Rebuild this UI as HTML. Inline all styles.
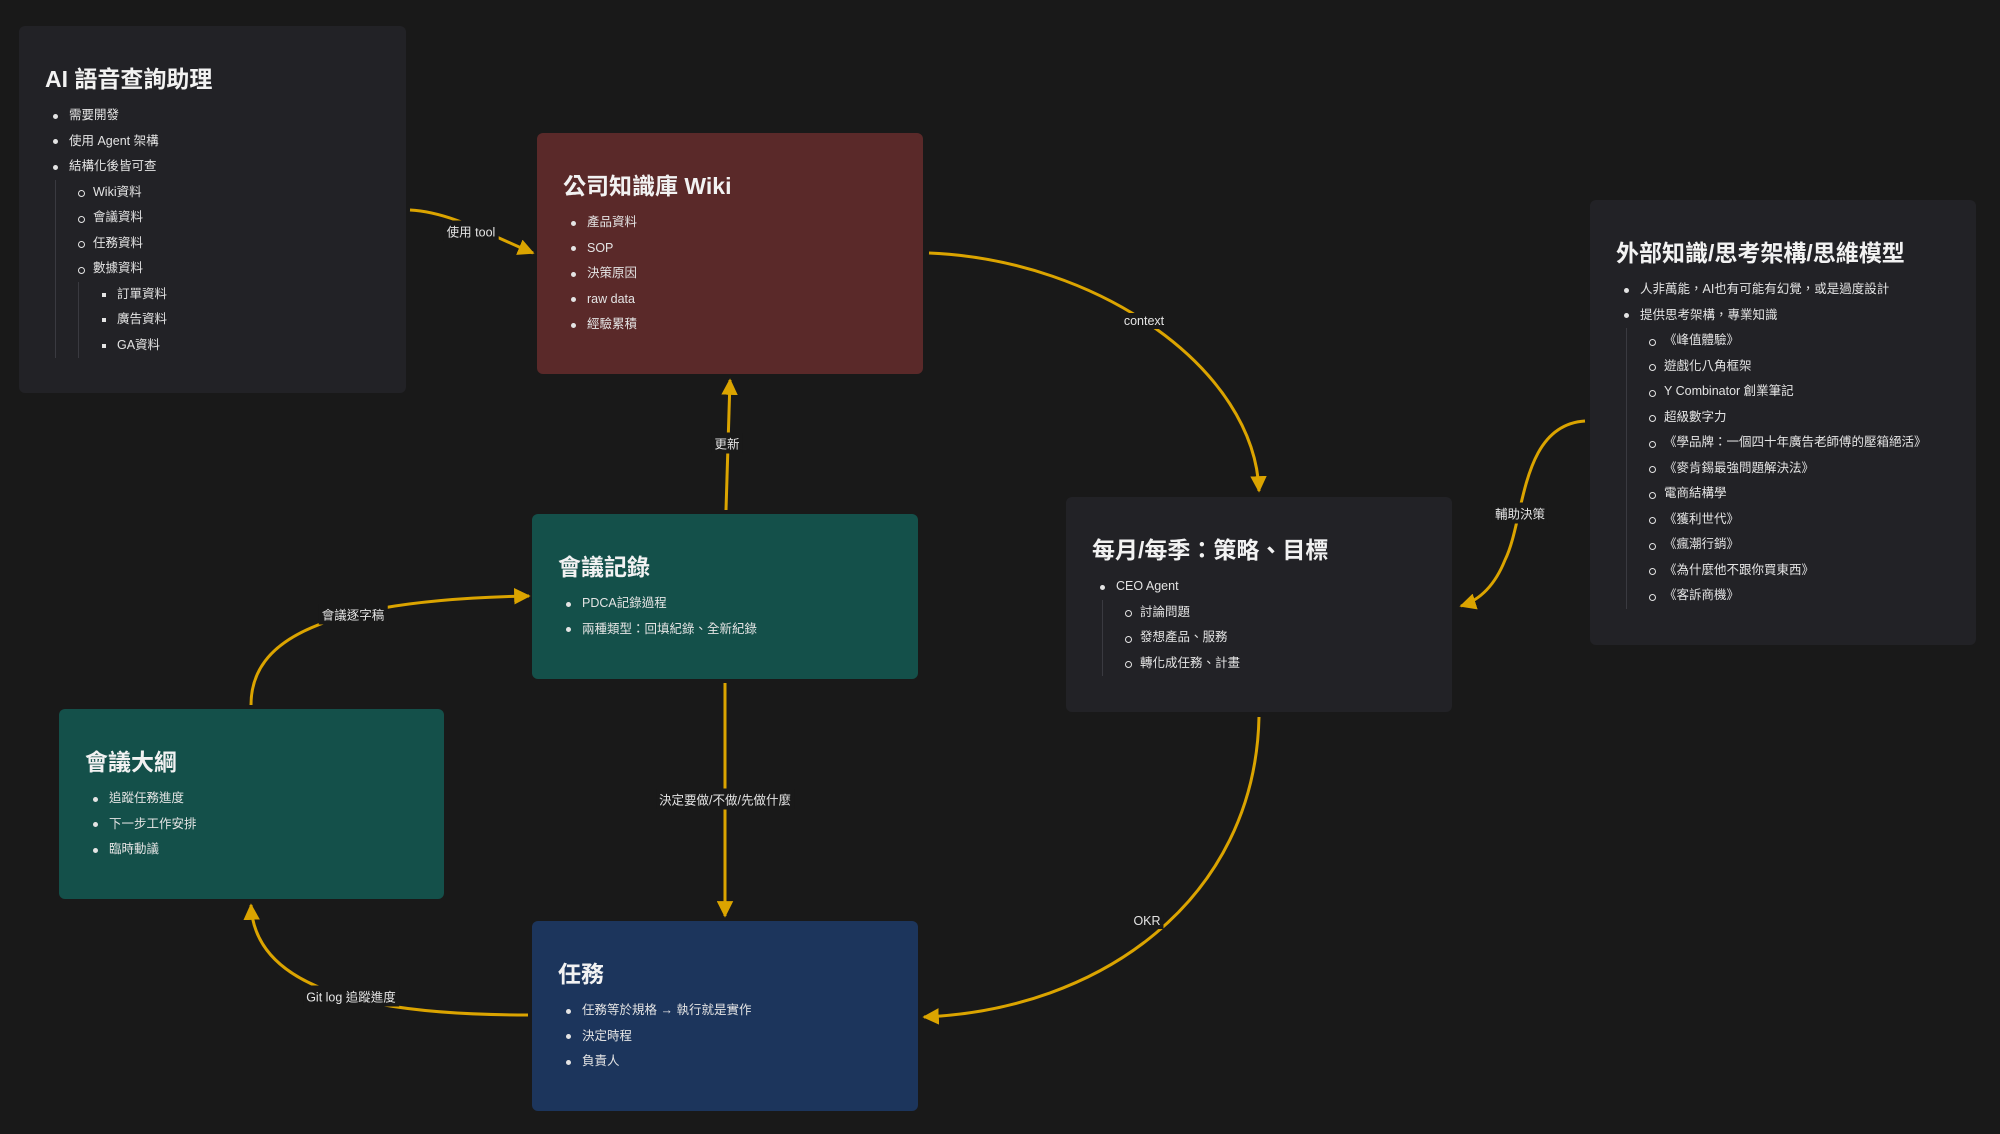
<!DOCTYPE html>
<html><head><meta charset="utf-8">
<style>
*{margin:0;padding:0;box-sizing:border-box}
body{width:2000px;height:1134px;background:#191919;position:relative;overflow:hidden;font-family:"Liberation Sans","Noto Sans CJK TC",sans-serif;color:#e4e4e4}
.box{position:absolute;border-radius:6px;padding-top:38px}
.box h1{font-size:23px;font-weight:bold;color:#f2f2f2;height:30px;line-height:30px;padding-left:26px;margin-bottom:9px;white-space:nowrap}
.r{height:25.5px;line-height:25.5px;font-size:12.5px;position:relative;padding-left:50px;white-space:nowrap}
.r::before{content:"";position:absolute;left:34px;top:10.5px;width:5px;height:5px;border-radius:50%;background:#e4e4e4}
.g{margin-left:36px;border-left:1px solid #3a3a40}
.g>.r{padding-left:37px}
.g>.r::before{left:22px;background:none;border:1px solid #e4e4e4;width:5px;height:5px;top:10.5px}
.g .g{margin-left:22px}
.g .g>.r{padding-left:38px}
.g .g>.r::before{left:23px;border:none;background:#e4e4e4;border-radius:0;width:4px;height:4px;top:11px}
.dark{background:#222226}
.red{background:#5a2929}
.green{background:#14504a}
.blue{background:#1c355c}
.lbl{position:absolute;font-size:12.5px;color:#e4e4e4;background:#191919;padding:1px 3px;transform:translate(-50%,-50%);white-space:nowrap}
svg{position:absolute;left:0;top:0}
</style></head><body>
<svg width="2000" height="1134">
<defs><marker id="a" viewBox="0 0 10 10" refX="9" refY="5" markerWidth="5.5" markerHeight="5.5" orient="auto"><path d="M0,0L10,5L0,10z" fill="#dba400"/></marker></defs>
<g fill="none" stroke="#dba400" stroke-width="3">
<path d="M410,210 C450,212 490,235 533,253" marker-end="url(#a)"/>
<path d="M929,253 C1100,260 1255,370 1259,491" marker-end="url(#a)"/>
<path d="M726,510 L730,380" marker-end="url(#a)"/>
<path d="M1585,421 C1520,425 1525,520 1505,560 C1495,585 1480,600 1461,606" marker-end="url(#a)"/>
<path d="M251,705 C251,640 320,600 529,596" marker-end="url(#a)"/>
<path d="M725,683 L725,916" marker-end="url(#a)"/>
<path d="M1259,717 C1255,900 1100,1010 924,1017" marker-end="url(#a)"/>
<path d="M528,1015 C400,1015 255,1000 251,905" marker-end="url(#a)"/>
</g></svg>
<div class="lbl" style="left:471px;top:231px">使用 tool</div>
<div class="lbl" style="left:1144px;top:321px">context</div>
<div class="lbl" style="left:727px;top:443px">更新</div>
<div class="lbl" style="left:1520px;top:513px">輔助決策</div>
<div class="lbl" style="left:353px;top:614px">會議逐字稿</div>
<div class="lbl" style="left:725px;top:799px">決定要做/不做/先做什麼</div>
<div class="lbl" style="left:1147px;top:921px">OKR</div>
<div class="lbl" style="left:351px;top:996px">Git log 追蹤進度</div>

<div class="box dark" style="left:19px;top:26px;width:387px;height:367px">
<h1>AI 語音查詢助理</h1>
<div class="r">需要開發</div><div class="r">使用 Agent 架構</div><div class="r">結構化後皆可查</div>
<div class="g"><div class="r">Wiki資料</div><div class="r">會議資料</div><div class="r">任務資料</div><div class="r">數據資料</div>
<div class="g"><div class="r">訂單資料</div><div class="r">廣告資料</div><div class="r">GA資料</div></div></div>
</div>
<div class="box red" style="left:537px;top:133px;width:386px;height:241px">
<h1>公司知識庫 Wiki</h1>
<div class="r">產品資料</div><div class="r">SOP</div><div class="r">決策原因</div><div class="r">raw data</div><div class="r">經驗累積</div>
</div>
<div class="box green" style="left:532px;top:514px;width:386px;height:165px">
<h1>會議記錄</h1>
<div class="r">PDCA記錄過程</div><div class="r">兩種類型：回填紀錄、全新紀錄</div>
</div>
<div class="box green" style="left:59px;top:709px;width:385px;height:190px">
<h1>會議大綱</h1>
<div class="r">追蹤任務進度</div><div class="r">下一步工作安排</div><div class="r">臨時動議</div>
</div>
<div class="box blue" style="left:532px;top:921px;width:386px;height:190px">
<h1>任務</h1>
<div class="r">任務等於規格 → 執行就是實作</div><div class="r">決定時程</div><div class="r">負責人</div>
</div>
<div class="box dark" style="left:1066px;top:497px;width:386px;height:215px">
<h1>每月/每季：策略、目標</h1>
<div class="r">CEO Agent</div>
<div class="g"><div class="r">討論問題</div><div class="r">發想產品、服務</div><div class="r">轉化成任務、計畫</div></div>
</div>
<div class="box dark" style="left:1590px;top:200px;width:386px;height:445px">
<h1>外部知識/思考架構/思維模型</h1>
<div class="r">人非萬能，AI也有可能有幻覺，或是過度設計</div><div class="r">提供思考架構，專業知識</div>
<div class="g"><div class="r">《峰值體驗》</div><div class="r">遊戲化八角框架</div><div class="r">Y Combinator 創業筆記</div><div class="r">超級數字力</div><div class="r">《學品牌：一個四十年廣告老師傅的壓箱絕活》</div><div class="r">《麥肯錫最強問題解決法》</div><div class="r">電商結構學</div><div class="r">《獲利世代》</div><div class="r">《瘋潮行銷》</div><div class="r">《為什麼他不跟你買東西》</div><div class="r">《客訴商機》</div></div>
</div>
</body></html>
